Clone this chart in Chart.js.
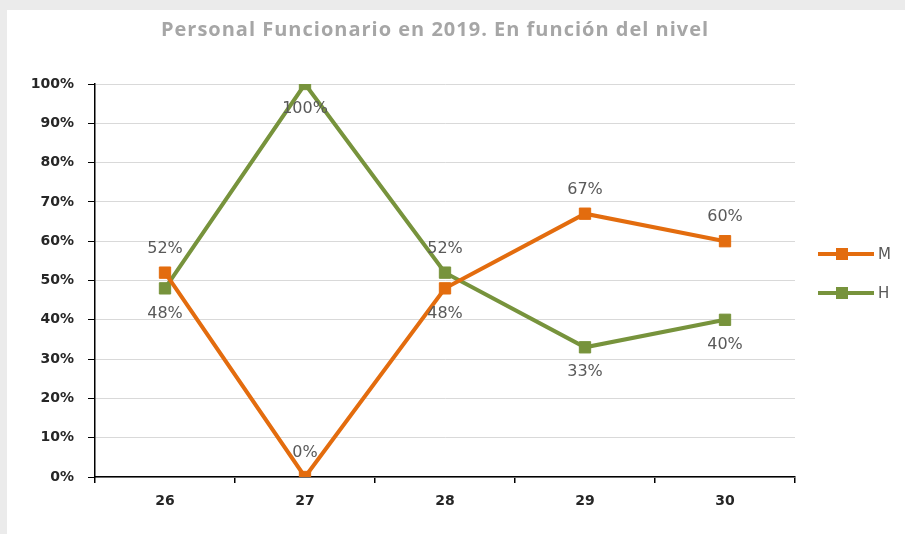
<!DOCTYPE html>
<html lang="es">
<head>
<meta charset="UTF-8">
<title>Personal Funcionario en 2019</title>
<script src="https://cdn.jsdelivr.net/npm/chart.js@4.4.1/dist/chart.umd.min.js"></script>
<style>
  body { margin: 0; background: #ebebeb; }
  #frame { position: absolute; left: 7px; top: 10px; width: 898px; height: 524px; background: #fff; }
</style>
</head>
<body>
<div id="frame"><canvas id="chart" width="898" height="524"></canvas></div>

<script>
    const niveles = ['26', '27', '28', '29', '30'];
    const mujeres = [52, 0, 48, 67, 60];   // M
    const hombres = [48, 100, 52, 33, 40]; // H
    const yTicks = [0, 10, 20, 30, 40, 50, 60, 70, 80, 90, 100];
    const titulo = 'Personal Funcionario en 2019. En función del nivel';

    const naranja = '#e36c0e';
    const verde = '#77933c';

    // where each data label goes (above / below its point)
    const ladoEtiqueta = {
        M: ['up', 'up', 'down', 'up', 'up'],
        H: ['down', 'down', 'up', 'down', 'down']
    };

    const extras = {
        id: 'extras',
        afterDatasetsDraw(chart) {
            const ctx = chart.ctx;
            const area = chart.chartArea;
            ctx.save();

            // data labels
            ctx.font = '16px "DejaVu Sans"';
            ctx.fillStyle = '#595959';
            ctx.textAlign = 'center';
            ctx.textBaseline = 'middle';
            chart.data.datasets.forEach((ds, i) => {
                chart.getDatasetMeta(i).data.forEach((pt, j) => {
                    const dy = ladoEtiqueta[ds.label][j] === 'up' ? -24 : 25;
                    ctx.fillText(ds.data[j] + '%', pt.x, pt.y + dy);
                });
            });

            // legend on the right
            const x0 = area.right + 23;
            chart.data.datasets.forEach((ds, i) => {
                const y = 244 + i * 39;
                ctx.strokeStyle = ds.borderColor;
                ctx.lineWidth = 4;
                ctx.beginPath();
                ctx.moveTo(x0, y);
                ctx.lineTo(x0 + 56, y);
                ctx.stroke();
                ctx.fillStyle = ds.backgroundColor;
                ctx.fillRect(x0 + 18, y - 6, 12, 12);
                ctx.fillStyle = '#595959';
                ctx.font = '15px "DejaVu Sans"';
                ctx.textAlign = 'left';
                ctx.fillText(ds.label, x0 + 60, y + 1);
            });

            // title
            ctx.font = 'bold 20px "Open Sans"';
            ctx.letterSpacing = '1px';
            ctx.fillStyle = '#a6a6a6';
            ctx.textAlign = 'center';
            ctx.fillText(titulo, 428, 20);
            ctx.restore();
        }
    };

    new Chart('chart', {
        type: 'line',
        data: {
            labels: niveles,
            datasets: [
                {
                    label: 'M',
                    data: mujeres,
                    borderColor: naranja,
                    backgroundColor: naranja,
                    borderWidth: 4,
                    pointStyle: 'rect',
                    pointRadius: 8,
                    pointBorderWidth: 1
                },
                {
                    label: 'H',
                    data: hombres,
                    borderColor: verde,
                    backgroundColor: verde,
                    borderWidth: 4,
                    pointStyle: 'rect',
                    pointRadius: 8,
                    pointBorderWidth: 1
                }
            ]
        },
        options: {
            responsive: false,
            animation: false,
            layout: { padding: { left: 0, top: 74, right: 110, bottom: 17 } },
            plugins: {
                legend: { display: false },
                title: { display: false },
                tooltip: { enabled: false }
            },
            scales: {
                x: {
                    offset: true,
                    afterFit: s => { s.height = 40; },
                    grid: { offset: true, drawOnChartArea: false, tickLength: 6, tickColor: '#000', lineWidth: 1.5 },
                    border: { color: '#000', width: 1.5 },
                    ticks: { padding: 10, color: '#262626', font: { family: 'DejaVu Sans', size: 14, weight: 'bold' } }
                },
                y: {
                    min: 0,
                    max: 100,
                    afterFit: s => { s.width = 88; },
                    afterBuildTicks: s => { s.ticks = yTicks.map(v => ({ value: v })); },
                    grid: { color: '#d9d9d9', tickColor: '#000', tickLength: 7, lineWidth: 1 },
                    border: { color: '#000', width: 1.5 },
                    ticks: {
                        padding: 14,
                        color: '#262626',
                        font: { family: 'DejaVu Sans', size: 14, weight: 'bold' },
                        callback: v => v + '%'
                    }
                }
            }
        },
        plugins: [extras]
    });
</script>
</body>
</html>
